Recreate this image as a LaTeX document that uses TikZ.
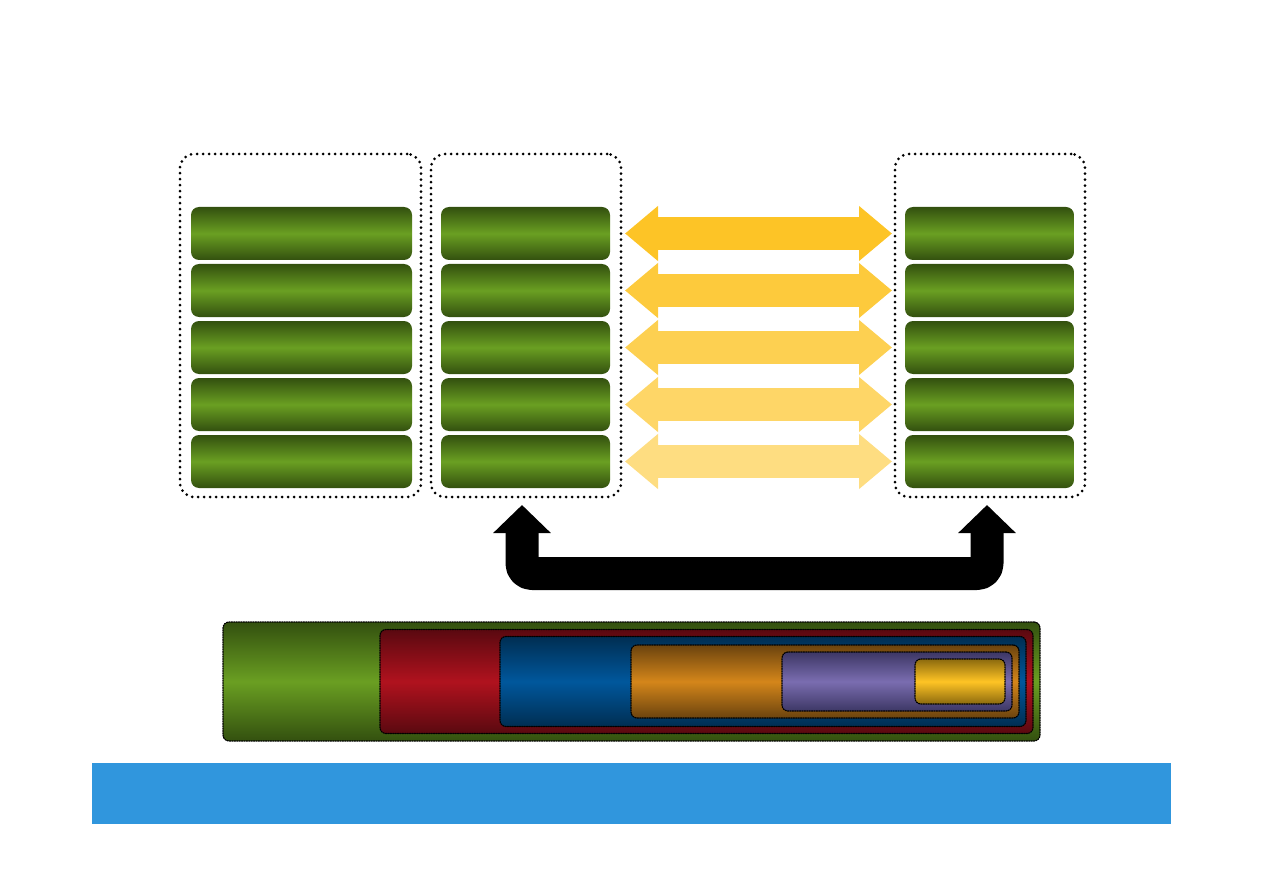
\documentclass[tikz,border=0pt]{standalone}
\usetikzlibrary{arrows.meta}
\definecolor{StackGreen}{HTML}{6A9F22}
\definecolor{StackGreenDark}{HTML}{33500F}
\definecolor{LinkGold}{HTML}{FDC426}
\definecolor{LayGreen}{HTML}{6A9F22}
\definecolor{LayGreenDark}{HTML}{33500F}
\definecolor{LayRed}{HTML}{B0121E}
\definecolor{LayRedDark}{HTML}{5A0910}
\definecolor{LayBlue}{HTML}{00579C}
\definecolor{LayBlueDark}{HTML}{002E52}
\definecolor{LayOrange}{HTML}{D4861A}
\definecolor{LayOrangeDark}{HTML}{6B430E}
\definecolor{LayPurple}{HTML}{7A6DB0}
\definecolor{LayPurpleDark}{HTML}{3D3765}
\definecolor{LayYellow}{HTML}{FFC425}
\definecolor{LayYellowDark}{HTML}{8C6A0E}
\definecolor{FootBlue}{HTML}{3096DD}

\begin{document}
\begin{tikzpicture}[x=0.5pt,y=-0.5pt,line cap=round,line join=round,
  bar/.style={rectangle,rounded corners=4pt,inner sep=0pt,outer sep=0pt,minimum height=26.5pt,
    top color=StackGreenDark,bottom color=StackGreenDark,middle color=StackGreen},
  stack/.style={rectangle,rounded corners=7pt,inner sep=0pt,outer sep=0pt,minimum height=171.5pt,
    draw=black,line width=1.5pt,dash pattern=on 0pt off 3pt},
  link/.style={line width=16.5pt,line cap=butt,
    {Triangle[width=26.5pt,length=16.5pt]}-{Triangle[width=26.5pt,length=16.5pt]},
    shorten <=7.5pt,shorten >=6.5pt},
  uturn/.style={black,line width=16.5pt,line cap=butt,rounded corners=5pt,
    {Triangle[width=28pt,length=14pt]}-{Triangle[width=28pt,length=14pt]}},
  layer/.style 2 args={rectangle,rounded corners=3pt,inner sep=0pt,outer sep=0pt,
    top color=#2,bottom color=#2,middle color=#1,
    draw=black,line width=0.6pt,dash pattern=on 0.6pt off 0.6pt}]
  \useasboundingbox (0,0) rectangle (1263,893);
  % dotted stacks
  \node[stack,minimum width=120.5pt] (boxA) at (300.5,325.5) {};
  \node[stack,minimum width=95pt] (boxB) at (526,325.5) {};
  \node[stack,minimum width=95pt] (boxC) at (990,325.5) {};
  % green rows
  \foreach \r in {1,...,5}{
    \pgfmathsetmacro{\ry}{233.5+57*(\r-1)}
    \node[bar,minimum width=110.5pt] (a\r) at (301.5,\ry) {};
    \node[bar,minimum width=84.5pt] (b\r) at (525.5,\ry) {};
    \node[bar,minimum width=84.5pt] (c\r) at (989.5,\ry) {};
  }
  % links between the stacks, fading
  \foreach \r/\t in {1/100,2/90,3/80,4/70,5/58}
    \draw[link,LinkGold!\t] (b\r.east) -- (c\r.west);
  \draw[uturn] ([xshift=-2pt,yshift=-4pt]boxB.south) -- ++(0,68.5)
    -| ([xshift=-1.5pt,yshift=-4pt]boxC.south);
  % nested layers
  \node[layer={LayGreen}{LayGreenDark},minimum width=408.5pt,minimum height=59.5pt] (lay1) at (631.5,681.5) {};
  \foreach \i/\w/\h/\col in {2/326.5/52/LayRed,3/263/45/LayBlue,4/194/36.5/LayOrange,
      5/115/29.5/LayPurple,6/45/22.5/LayYellow}{
    \pgfmathtruncatemacro{\p}{\i-1}
    \node[layer={\col}{\col Dark},minimum width=\w pt,minimum height=\h pt,anchor=east]
      (lay\i) at ([xshift=-3.5pt]lay\p.east) {};
  }
  \node[rectangle,fill=FootBlue,inner sep=0pt,minimum width=539.5pt,minimum height=30.5pt] (foot) at (631.5,793.5) {};
\end{tikzpicture}
\end{document}
